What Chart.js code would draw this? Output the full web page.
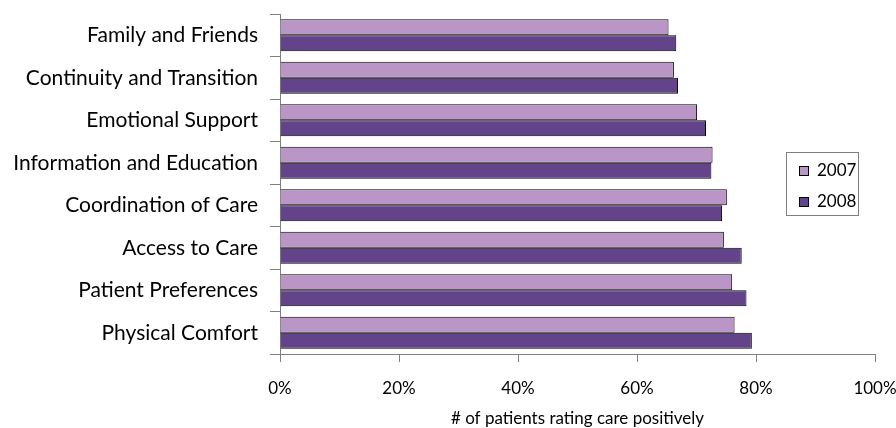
<!DOCTYPE html>
<html>
<head>
<meta charset="utf-8">
<script src="https://cdn.jsdelivr.net/npm/chart.js@4"></script>
<style>
  html, body { margin: 0; padding: 0; background: #fff; }
  #wrap { width: 896px; height: 428px; }
</style>
</head>
<body>
<div id="wrap"><canvas id="chart" width="896" height="428"></canvas></div>
<script>
const categories = ['Family and Friends', 'Continuity and Transition', 'Emotional Support', 'Information and Education',
  'Coordination of Care', 'Access to Care', 'Patient Preferences', 'Physical Comfort'];
const values2007 = [65.3, 66.2, 70.1, 72.7, 75.1, 74.6, 76.0, 76.4];
const values2008 = [66.6, 66.9, 71.6, 72.5, 74.3, 77.6, 78.4, 79.3];
const seriesNames = ['2007', '2008'];
const xTicks = [0, 20, 40, 60, 80, 100];

const FONT = 'Lato, "DejaVu Sans", sans-serif';

// legend drawn inside the plot, right side, like the original
const boxLegend = {
  id: 'boxLegend',
  afterDraw(chart) {
    const ctx = chart.ctx;
    const x = 786, y = 152, w = 72, h = 63;
    ctx.save();
    ctx.fillStyle = '#fff';
    ctx.fillRect(x, y, w, h);
    ctx.strokeStyle = '#808080';
    ctx.lineWidth = 1;
    ctx.strokeRect(x + 0.5, y + 0.5, w, h);
    ctx.font = '17px ' + FONT;
    ctx.textBaseline = 'middle';
    chart.data.datasets.forEach((ds, i) => {
      const cy = y + 19 + i * 31;
      ctx.fillStyle = ds.backgroundColor;
      ctx.fillRect(799, cy - 5, 9, 9);
      ctx.strokeStyle = '#000';
      ctx.strokeRect(799.5, cy - 4.5, 9, 9);
      ctx.fillStyle = '#000';
      ctx.fillText(ds.label, 817, cy);
    });
    ctx.restore();
  }
};

new Chart(document.getElementById('chart').getContext('2d'), {
  type: 'bar',
  data: {
    labels: categories,
    datasets: [{
      label: seriesNames[0],
      data: values2007,
      backgroundColor: '#B996C6',
      borderColor: '#000',
      borderWidth: 1,
      borderSkipped: 'start',
      categoryPercentage: 0.75,
      barPercentage: 1
    }, {
      label: seriesNames[1],
      data: values2008,
      backgroundColor: '#634389',
      borderColor: '#000',
      borderWidth: 1,
      borderSkipped: 'start',
      categoryPercentage: 0.75,
      barPercentage: 1
    }]
  },
  options: {
    indexAxis: 'y',
    responsive: false,
    animation: false,
    layout: { padding: { top: 14, right: 21, left: 0, bottom: 0 } },
    plugins: { legend: { display: false }, tooltip: { enabled: false } },
    scales: {
      x: {
        min: 0, max: 100,
        afterBuildTicks: (s) => { s.ticks = xTicks.map(v => ({ value: v })); },
        afterFit: (s) => { s.height = 74; s.paddingLeft = 0; s.paddingRight = 0; },
        ticks: { color: '#000', font: { family: FONT, size: 17 }, padding: 16, callback: v => v + '%' },
        grid: { drawOnChartArea: false, tickLength: 8, color: '#808080' },
        border: { color: '#808080' },
        title: { display: true, text: '# of patients rating care positively', color: '#000',
          font: { family: FONT, size: 17 }, padding: { top: 0, bottom: -1 } }
      },
      y: {
        afterFit: (s) => { s.width = 280; s.paddingTop = 0; s.paddingBottom = 0; },
        ticks: { color: '#000', font: { family: FONT, size: 21 }, padding: 12 },
        grid: { drawOnChartArea: false, tickLength: 10, color: '#808080', offset: true },
        border: { color: '#808080' }
      }
    }
  },
  plugins: [boxLegend]
});
</script>
</body>
</html>
